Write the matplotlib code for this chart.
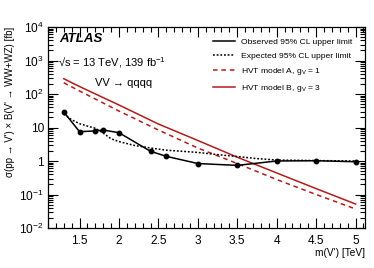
import matplotlib
matplotlib.use("Agg")
import matplotlib.pyplot as plt
from matplotlib.ticker import FixedLocator, LogLocator, NullFormatter, FixedFormatter, MultipleLocator
from matplotlib.lines import Line2D

plt.rcParams['font.family'] = ['Liberation Sans', 'DejaVu Sans']
plt.rcParams['mathtext.fontset'] = 'custom'
plt.rcParams['mathtext.rm'] = 'Liberation Sans'
plt.rcParams['mathtext.it'] = 'Liberation Sans:italic'

# Data
obs_mass = [1.3, 1.5, 1.7, 1.8, 2.0, 2.4, 2.6, 3.0, 3.5, 4.0, 4.5, 5.0]
obs_limit = [29, 7.5, 7.9, 8.4, 7.0, 1.95, 1.38, 0.84, 0.74, 1.0, 1.02, 0.95]

exp_mass = [1.3, 1.4, 1.5, 1.6, 1.7, 1.8, 1.9, 2.0, 2.2, 2.4, 2.6, 2.8, 3.0, 3.25, 3.5, 3.75, 4.0, 4.5, 5.0]
exp_limit = [25, 17, 13, 11, 9.5, 6.8, 4.6, 3.8, 2.9, 2.45, 2.1, 1.95, 1.8, 1.55, 1.36, 1.18, 1.07, 1.03, 1.0]

model_mass = [1.3, 1.5, 2.0, 2.5, 3.0, 3.5, 4.0, 4.5, 5.0]
hvt_a = [217, 123, 31, 8.4, 2.44, 0.84, 0.28, 0.1, 0.037]
hvt_b = [286, 167, 47, 12.7, 4.1, 1.3, 0.44, 0.15, 0.052]

ytick_vals = [1e-2, 1e-1, 1, 10, 1e2, 1e3, 1e4]
ytick_labels = ['$10^{-2}$', '$10^{-1}$', '1', '10', '$10^{2}$', '$10^{3}$', '$10^{4}$']
xtick_vals = [1.5, 2, 2.5, 3, 3.5, 4, 4.5, 5]
xtick_labels = ['1.5', '2', '2.5', '3', '3.5', '4', '4.5', '5']

red = '#b31b1b'

fig = plt.figure(figsize=(3.74, 2.68), dpi=100)
ax = fig.add_axes([48/374, 1-228/268, (365-48)/374, (228-27)/268])

ax.plot(obs_mass, obs_limit, color='black', lw=1.1, marker='o', ms=3.2, zorder=5)
ax.plot(exp_mass, exp_limit, color='black', lw=1.1, ls=(0, (1.2, 1.2)), zorder=4)
ax.plot(model_mass, hvt_a, color=red, lw=1.1, ls=(0, (3, 2.5)), zorder=3)
ax.plot(model_mass, hvt_b, color=red, lw=1.1, zorder=3)

handles = [
    Line2D([], [], color='black', lw=1.1),
    Line2D([], [], color='black', lw=1.1, ls=(0, (1.2, 1.2))),
    Line2D([], [], color=red, lw=1.1, ls=(0, (3, 2.5))),
    Line2D([], [], color=red, lw=1.1),
]
labels = ['Observed 95% CL upper limit', 'Expected 95% CL upper limit',
          'HVT model A, $\\mathregular{g_{V}}$ = 1', 'HVT model B, $\\mathregular{g_{V}}$ = 3']

ax.set_yscale('log')
ax.set_ylim(1e-2, 1e4)
ax.set_xlim(1.1, 5.12)

ax.yaxis.set_major_locator(FixedLocator(ytick_vals))
ax.yaxis.set_major_formatter(FixedFormatter(ytick_labels))
ax.yaxis.set_minor_locator(LogLocator(base=10, subs=range(2, 10), numticks=20))
ax.yaxis.set_minor_formatter(NullFormatter())
ax.xaxis.set_major_locator(FixedLocator(xtick_vals))
ax.xaxis.set_major_formatter(FixedFormatter(xtick_labels))
ax.xaxis.set_minor_locator(MultipleLocator(0.1))

ax.tick_params(which='both', direction='in', top=True, right=True, labelsize=8.6, width=0.8)
ax.tick_params(which='major', length=7.5)
ax.tick_params(which='minor', length=3.8)
ax.tick_params(axis='x', pad=5)
ax.tick_params(axis='y', pad=3)
for s in ax.spines.values():
    s.set_linewidth(0.9)

ax.set_xlabel("m(V') [TeV]", fontsize=7.3, loc='right', labelpad=1)
ax.set_ylabel("σ(pp → V') × B(V' → WW+WZ) [fb]", fontsize=7.0, loc='top', labelpad=3)

ax.text(0.035, 0.97, 'ATLAS', transform=ax.transAxes, fontsize=9.5,
        fontweight='bold', fontstyle='italic', va='top')
ax.text(0.03, 0.862, '√s = 13 TeV, 139 fb$^{-1}$', transform=ax.transAxes,
        fontsize=8, va='top')
ax.text(0.148, 0.745, 'VV → qqqq', transform=ax.transAxes, fontsize=8, va='top')

ax.legend(handles, labels, loc='upper right', bbox_to_anchor=(0.985, 0.985), frameon=False,
          fontsize=6.1, handlelength=2.6, labelspacing=0.72, handletextpad=0.75)

fig.savefig('out.png', dpi=100)
